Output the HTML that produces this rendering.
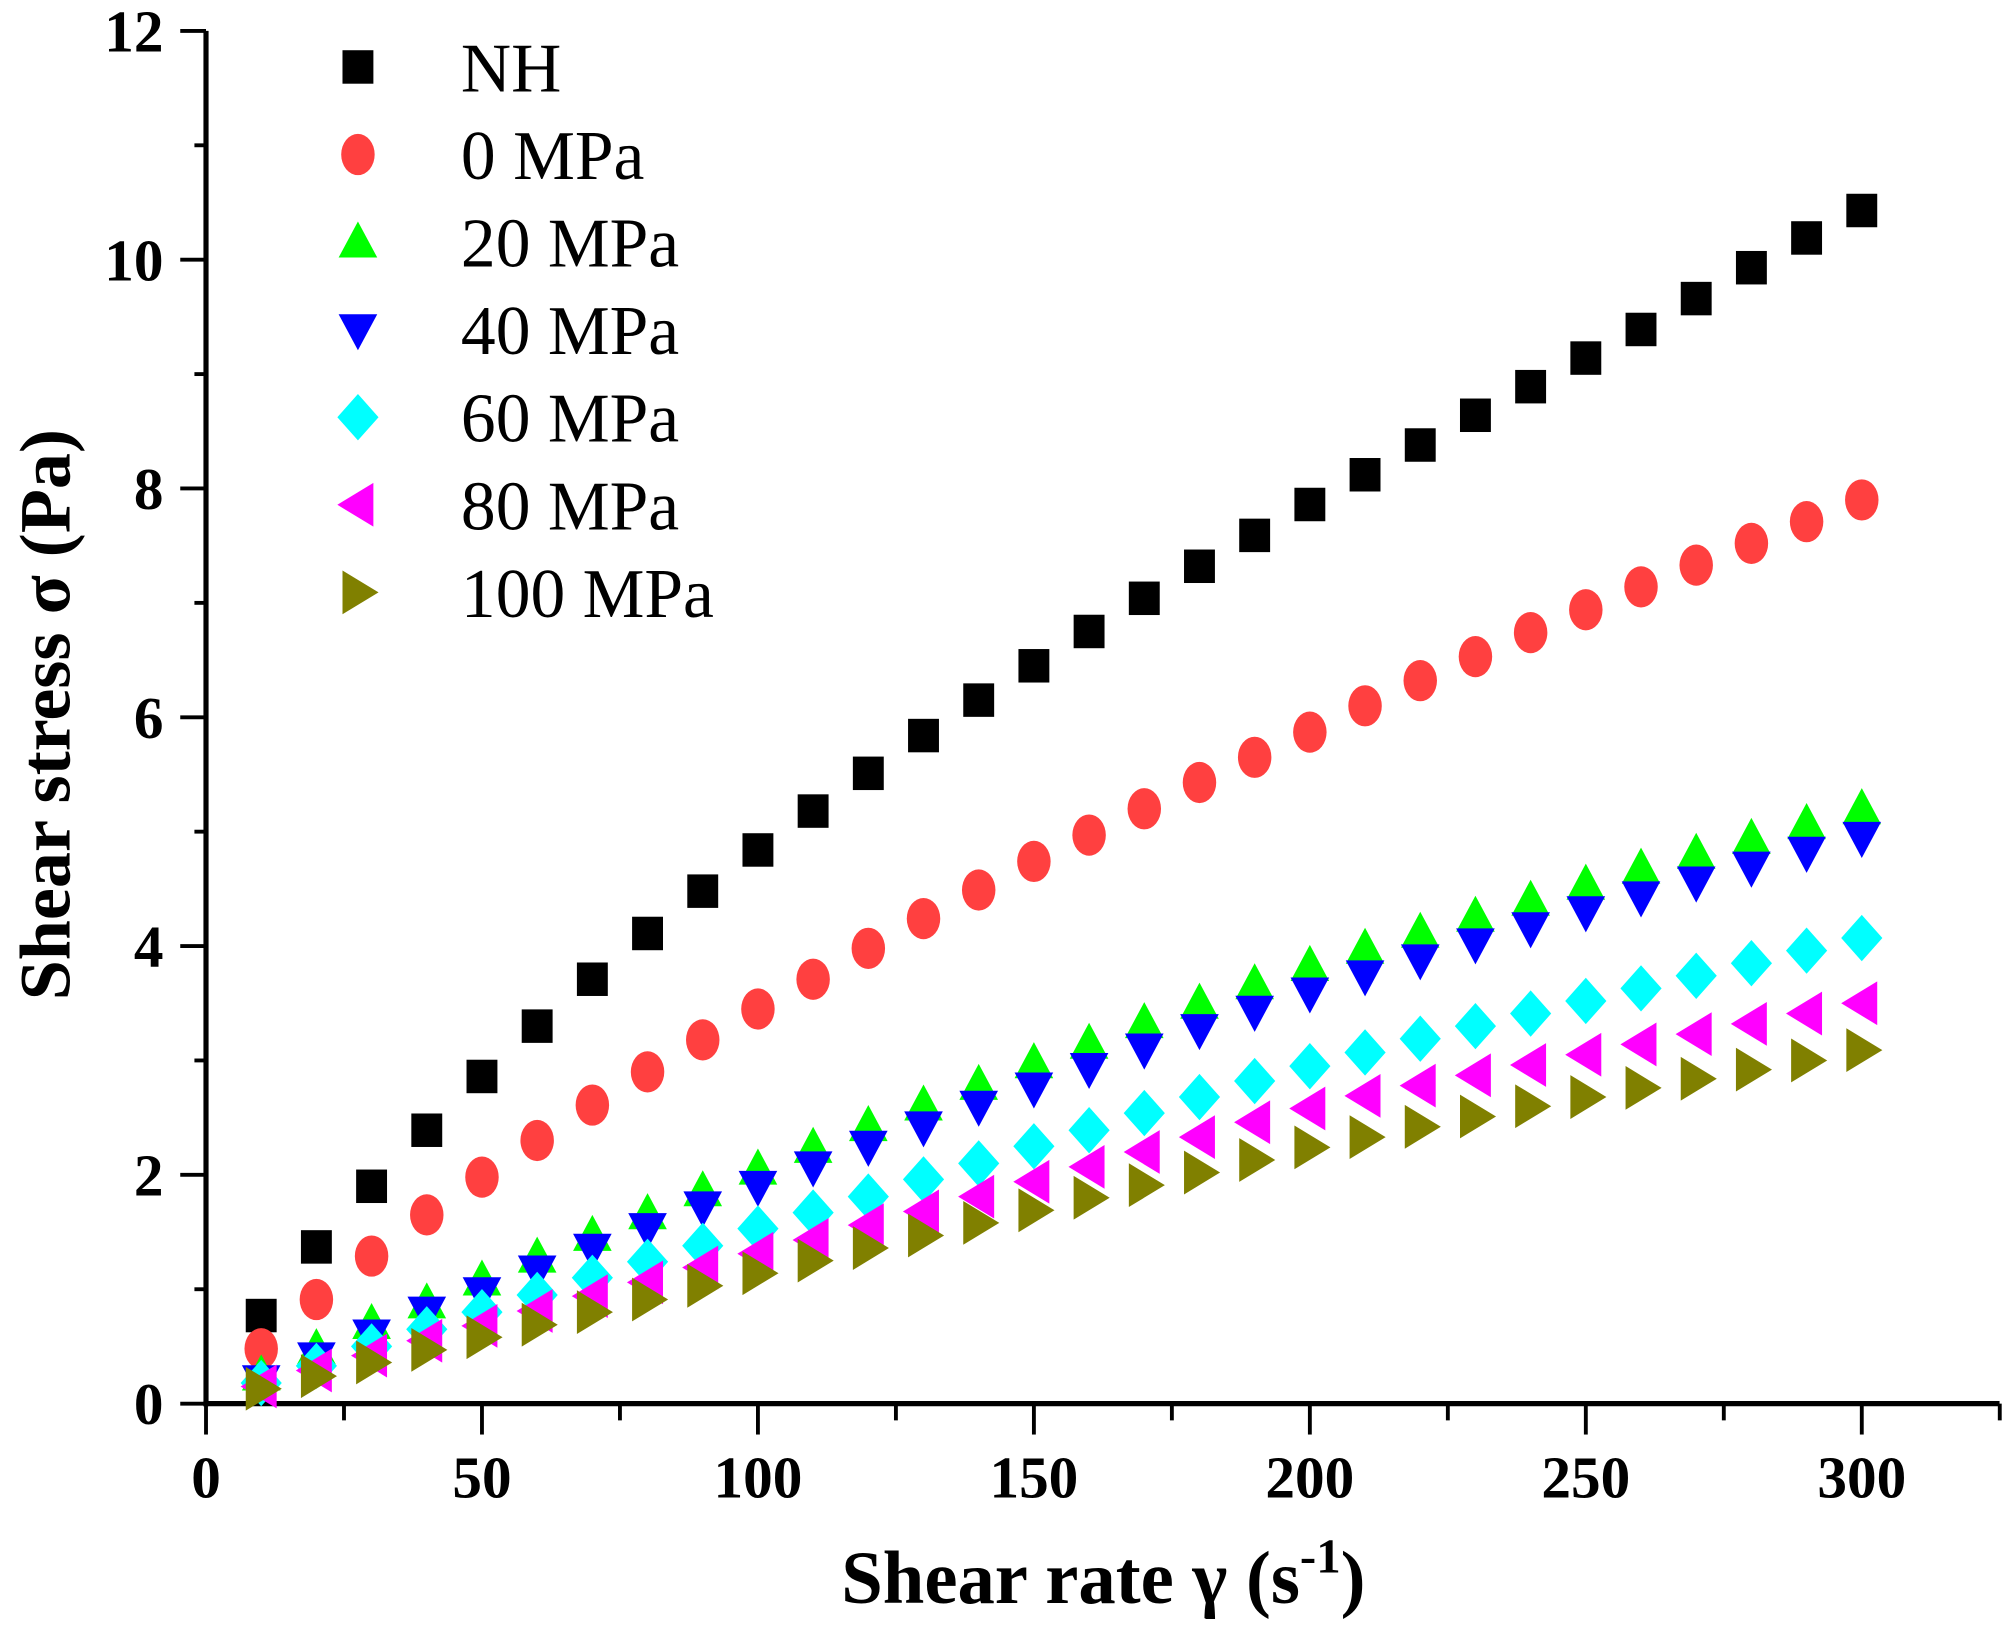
<!DOCTYPE html>
<html><head><meta charset="utf-8"><style>
html,body{margin:0;padding:0;background:#fff;}
svg{display:block;}
text{font-family:"Liberation Serif",serif;}
</style></head><body>
<svg id="chart" width="2015" height="1638" viewBox="0 0 1565 1272" preserveAspectRatio="none" xmlns="http://www.w3.org/2000/svg">
<g id="axes"></g>
<g id="marks"></g>
<g id="legend"></g>
<text x="857" y="1245" text-anchor="middle" font-size="58" font-weight="bold">Shear rate γ (s<tspan dy="-24" font-size="38">-1</tspan><tspan dy="24">)</tspan></text>
<text transform="translate(54,555) rotate(-90)" text-anchor="middle" font-size="56" font-weight="bold">Shear stress σ (Pa)</text>
</svg>
<script>
const xValues = [10,20,30,40,50,60,70,80,90,100,110,120,130,140,150,160,170,180,190,200,210,220,230,240,250,260,270,280,290,300];
const seriesNames = ["NH","0 MPa","20 MPa","40 MPa","60 MPa","80 MPa","100 MPa"];
const seriesNH = [0.77,1.37,1.9,2.39,2.86,3.3,3.71,4.11,4.48,4.84,5.18,5.51,5.84,6.15,6.45,6.75,7.04,7.32,7.59,7.86,8.12,8.38,8.64,8.89,9.14,9.39,9.66,9.93,10.19,10.43];
const series0 = [0.48,0.91,1.29,1.65,1.98,2.3,2.61,2.9,3.18,3.45,3.71,3.98,4.24,4.49,4.74,4.97,5.2,5.43,5.65,5.87,6.1,6.32,6.53,6.74,6.94,7.14,7.33,7.52,7.71,7.9];
const series20 = [0.25,0.48,0.7,0.88,1.08,1.28,1.47,1.66,1.86,2.05,2.24,2.43,2.61,2.79,2.98,3.15,3.33,3.5,3.67,3.83,3.98,4.12,4.26,4.4,4.54,4.68,4.81,4.94,5.07,5.2];
const series40 = [0.2,0.4,0.6,0.8,0.97,1.16,1.35,1.53,1.72,1.9,2.07,2.25,2.42,2.6,2.76,2.93,3.1,3.27,3.43,3.59,3.74,3.88,4.02,4.16,4.3,4.43,4.56,4.69,4.82,4.95];
const series60 = [0.18,0.33,0.5,0.65,0.8,0.95,1.1,1.24,1.38,1.53,1.67,1.81,1.96,2.1,2.25,2.39,2.54,2.68,2.82,2.95,3.07,3.19,3.3,3.41,3.52,3.63,3.74,3.85,3.96,4.07];
const series80 = [0.15,0.29,0.42,0.55,0.68,0.81,0.94,1.06,1.19,1.31,1.43,1.56,1.68,1.81,1.94,2.07,2.2,2.33,2.46,2.58,2.69,2.78,2.87,2.96,3.05,3.14,3.23,3.32,3.41,3.5];
const series100 = [0.13,0.24,0.36,0.47,0.58,0.69,0.8,0.91,1.03,1.14,1.25,1.36,1.47,1.58,1.69,1.8,1.91,2.02,2.13,2.24,2.33,2.42,2.51,2.6,2.68,2.76,2.84,2.92,3.0,3.09];
const xTickLabels = [0,50,100,150,200,250,300];
const yTickLabels = [0,2,4,6,8,10,12];

const NS="http://www.w3.org/2000/svg";
const X0=160, X300=1446, Y0=1090, Y12=24;
function sx(v){return X0+(X300-X0)*v/300;}
function sy(v){return Y0-(Y0-Y12)*v/12;}
function mk(tag,attrs,parent){const e=document.createElementNS(NS,tag);for(const k in attrs)e.setAttribute(k,attrs[k]);parent.appendChild(e);return e;}
const axes=document.getElementById('axes');
let l=mk('line',{x1:X0,y1:Y12,x2:X0,y2:Y0+2,stroke:'#000','stroke-width':4},axes);


l=mk('line',{x1:X0-2,y1:Y0,x2:1553,y2:Y0,stroke:'#000','stroke-width':4},axes);


for(let v=0;v<=12;v+=1){
  const major=v%2===0;
  const t=mk('line',{x1:X0-(major?20:9),y1:sy(v),x2:X0,y2:sy(v),stroke:'#000','stroke-width':3},axes);
  
  
}
yTickLabels.forEach(v=>{
  const t=mk('text',{x:127,y:sy(v)+16,'text-anchor':'end','font-size':46,'font-weight':'bold'},axes);
  t.textContent=v;
  
  
});
for(let v=0;v<=325;v+=25){
  const major=v%50===0;
  const t=mk('line',{x1:sx(v),y1:Y0,x2:sx(v),y2:Y0+(major?24:13),stroke:'#000','stroke-width':3},axes);
  
  
}
xTickLabels.forEach(v=>{
  const t=mk('text',{x:sx(v),y:1163,'text-anchor':'middle','font-size':46,'font-weight':'bold'},axes);
  t.textContent=v;
  
  
});
const colors=['#000000','#ff4040','#00ff00','#0000ff','#00ffff','#ff00ff','#808000'];
const shapes=['square','circle','up','down','diamond','left','right'];
function marker(shape,cx,cy,color,parent){
  let e;
  if(shape==='square') e=mk('rect',{x:cx-12,y:cy-13,width:24,height:26,fill:color},parent);
  else if(shape==='circle') e=mk('ellipse',{cx:cx,cy:cy,rx:13,ry:16,fill:color},parent);
  else {
    let p;
    if(shape==='up') p=[[cx,cy-16],[cx+15,cy+12],[cx-15,cy+12]];
    else if(shape==='down') p=[[cx-15,cy-12],[cx+15,cy-12],[cx,cy+16]];
    else if(shape==='diamond') p=[[cx,cy-18],[cx+16,cy],[cx,cy+18],[cx-16,cy]];
    else if(shape==='left') p=[[cx-16,cy],[cx+12,cy-17],[cx+12,cy+17]];
    else p=[[cx+16,cy],[cx-12,cy-17],[cx-12,cy+17]];
    e=mk('polygon',{points:p.map(q=>q.join(',')).join(' '),fill:color},parent);
  }
  return e;
}
const allSeries=[seriesNH,series0,series20,series40,series60,series80,series100];
const marks=document.getElementById('marks');
allSeries.forEach((s,i)=>{
  const g=mk('g',{},marks);
  
  
  s.forEach((v,j)=>{
    const m=marker(shapes[i],sx(xValues[j]),sy(v),colors[i],g);
    
    
  });
});
const legend=document.getElementById('legend');
seriesNames.forEach((n,i)=>{
  const y=52+68*i;
  const g=mk('g',{},legend);
  
  
  marker(shapes[i],278,y,colors[i],g);
  const t=mk('text',{x:358,y:y+19,'font-size':54},g);
  t.textContent=n;
});
</script>
</body></html>
